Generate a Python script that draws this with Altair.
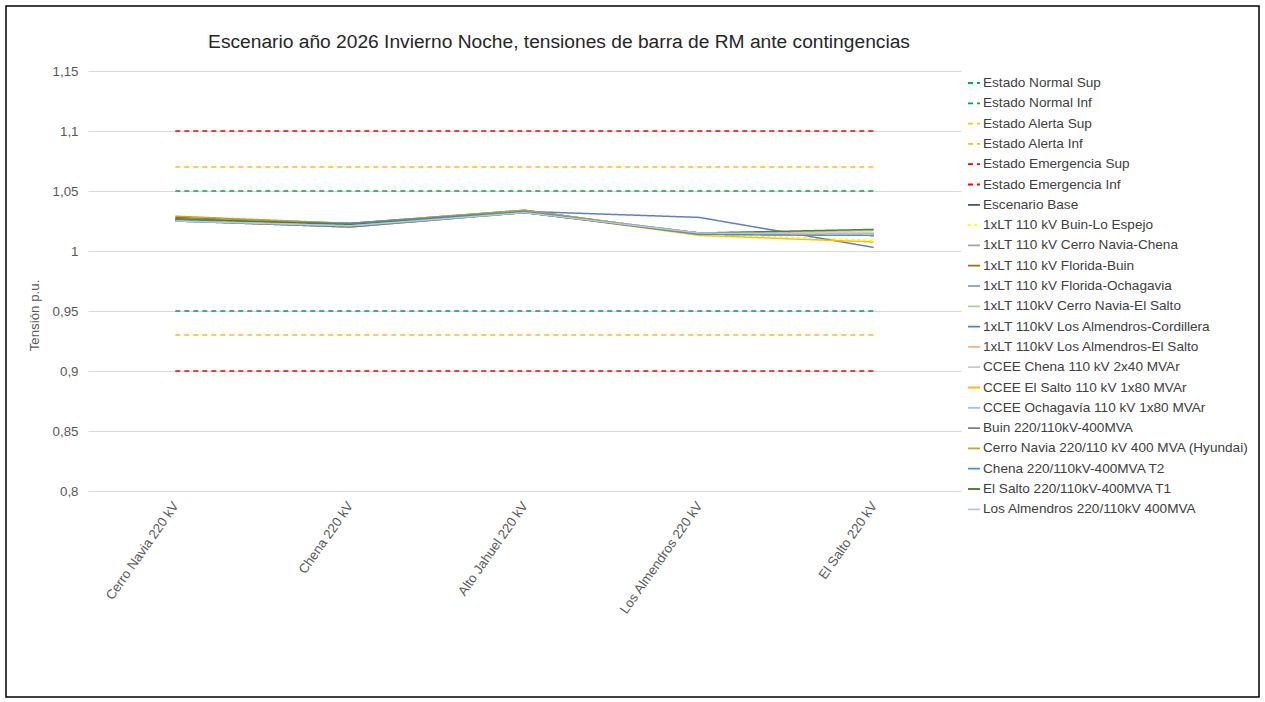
import altair as alt
import pandas as pd

categories = ["Cerro Navia 220 kV", "Chena 220 kV", "Alto Jahuel 220 kV",
              "Los Almendros 220 kV", "El Salto 220 kV"]

series_names = [
    "Estado Normal Sup", "Estado Normal Inf", "Estado Alerta Sup", "Estado Alerta Inf",
    "Estado Emergencia Sup", "Estado Emergencia Inf", "Escenario Base",
    "1xLT 110 kV Buin-Lo Espejo", "1xLT 110 kV Cerro Navia-Chena", "1xLT 110 kV Florida-Buin",
    "1xLT 110 kV Florida-Ochagavia", "1xLT 110kV Cerro Navia-El Salto",
    "1xLT 110kV Los Almendros-Cordillera", "1xLT 110kV Los Almendros-El Salto",
    "CCEE Chena 110 kV 2x40 MVAr", "CCEE El Salto 110 kV 1x80 MVAr",
    "CCEE Ochagavía 110 kV 1x80 MVAr", "Buin 220/110kV-400MVA",
    "Cerro Navia 220/110 kV 400 MVA (Hyundai)", "Chena 220/110kV-400MVA T2",
    "El Salto 220/110kV-400MVA T1", "Los Almendros 220/110kV 400MVA",
]

normal_sup = [1.05, 1.05, 1.05, 1.05, 1.05]
normal_inf = [0.95, 0.95, 0.95, 0.95, 0.95]
alerta_sup = [1.07, 1.07, 1.07, 1.07, 1.07]
alerta_inf = [0.93, 0.93, 0.93, 0.93, 0.93]
emerg_sup = [1.10, 1.10, 1.10, 1.10, 1.10]
emerg_inf = [0.90, 0.90, 0.90, 0.90, 0.90]
base = [1.026, 1.022, 1.033, 1.015, 1.014]
buin_lo_espejo = [1.026, 1.022, 1.033, 1.014, 1.009]
cn_chena = [1.025, 1.020, 1.032, 1.015, 1.014]
florida_buin = [1.028, 1.023, 1.034, 1.014, 1.013]
florida_ochagavia = [1.027, 1.023, 1.033, 1.015, 1.014]
cn_el_salto = [1.026, 1.021, 1.032, 1.015, 1.017]
la_cordillera = [1.026, 1.022, 1.033, 1.028, 1.003]
la_el_salto = [1.027, 1.022, 1.033, 1.015, 1.015]
ccee_chena = [1.026, 1.020, 1.033, 1.015, 1.014]
ccee_el_salto = [1.026, 1.022, 1.033, 1.013, 1.0075]
ccee_ochagavia = [1.025, 1.021, 1.032, 1.015, 1.014]
buin_tr = [1.025, 1.020, 1.032, 1.014, 1.014]
cn_hyundai = [1.029, 1.023, 1.034, 1.014, 1.013]
chena_t2 = [1.026, 1.023, 1.033, 1.014, 1.013]
el_salto_t1 = [1.027, 1.022, 1.032, 1.015, 1.018]
los_almendros_tr = [1.025, 1.021, 1.032, 1.015, 1.014]

series_values = [normal_sup, normal_inf, alerta_sup, alerta_inf, emerg_sup, emerg_inf,
                 base, buin_lo_espejo, cn_chena, florida_buin, florida_ochagavia,
                 cn_el_salto, la_cordillera, la_el_salto, ccee_chena, ccee_el_salto,
                 ccee_ochagavia, buin_tr, cn_hyundai, chena_t2, el_salto_t1,
                 los_almendros_tr]

colors = ["#00B050", "#00A060", "#FFC000", "#FFC000", "#FF0000", "#FF0000",
          "#44546A", "#FFFF00", "#A5A5A5", "#997300", "#8FAADC", "#A9D18E",
          "#5B7FC8", "#F4B183", "#C9C9C9", "#FFC000", "#9DC3E6", "#7F7F7F",
          "#C9A227", "#4A90D0", "#548235", "#B4C7E7"]
dashes = [[5, 4]] * 6 + [[1, 0], [3, 3]] + [[1, 0]] * 14

rows = []
for name, vals in zip(series_names, series_values):
    for cat, v in zip(categories, vals):
        rows.append({"Serie": name, "Barra": cat, "Tension": v})
df = pd.DataFrame(rows)

FONT = "Liberation Sans"

legend = alt.Legend(
    title=None, orient="none", legendX=879, legendY=5, symbolType="stroke",
    symbolSize=144, symbolStrokeWidth=1.8, labelFont=FONT, labelFontSize=13.6,
    labelColor="#404040", labelLimit=400, labelOffset=2, rowPadding=6.3, padding=0,
)

lines = alt.Chart(df).mark_line(strokeWidth=1.5).encode(
    x=alt.X("Barra:N", sort=categories, title=None,
            axis=alt.Axis(labelAngle=-55, labelFont=FONT, labelFontSize=13.3,
                          labelColor="#595959", ticks=False, domain=False, grid=False,
                          labelPadding=12, labelLimit=300)),
    y=alt.Y("Tension:Q", title="Tensión p.u.",
            scale=alt.Scale(domain=[0.8, 1.15], nice=False, zero=False),
            axis=alt.Axis(values=[0.8, 0.85, 0.9, 0.95, 1.0, 1.05, 1.1, 1.15],
                          labelExpr="replace(format(datum.value, '.2~f'), '.', ',')",
                          labelFont=FONT, labelFontSize=13.3, labelColor="#595959",
                          ticks=False, domain=False, gridColor="#D9D9D9",
                          labelPadding=10, titleFont=FONT, titleFontSize=13.3,
                          titleFontWeight="normal", titleColor="#595959",
                          titleX=-54, titleY=244, titleBaseline="middle")),
    color=alt.Color("Serie:N", scale=alt.Scale(domain=series_names, range=colors),
                    legend=legend),
    strokeDash=alt.StrokeDash("Serie:N", scale=alt.Scale(domain=series_names, range=dashes),
                              legend=legend),
)

one = pd.DataFrame({"t": ["Escenario año 2026 Invierno Noche, tensiones de barra de RM ante contingencias"]})
title = alt.Chart(one).mark_text(font=FONT, fontSize=19.2, color="#262626",
                                 align="center", baseline="alphabetic").encode(
    text="t:N", x=alt.value(471), y=alt.value(-23))

frame = alt.Chart(one).mark_rect(fill=None, stroke="#000000", strokeWidth=1.5).encode(
    x=alt.value(-82), x2=alt.value(1171), y=alt.value(-65), y2=alt.value(626))

chart = alt.layer(lines, title, frame).properties(
    width=873, height=420,
    autosize=alt.AutoSizeParams(type="none"),
    padding={"left": 88, "top": 71, "right": 304, "bottom": 211},
    background="white",
).configure_view(stroke=None)

chart.save("out.html", embed_options={"renderer": "svg", "actions": False})
